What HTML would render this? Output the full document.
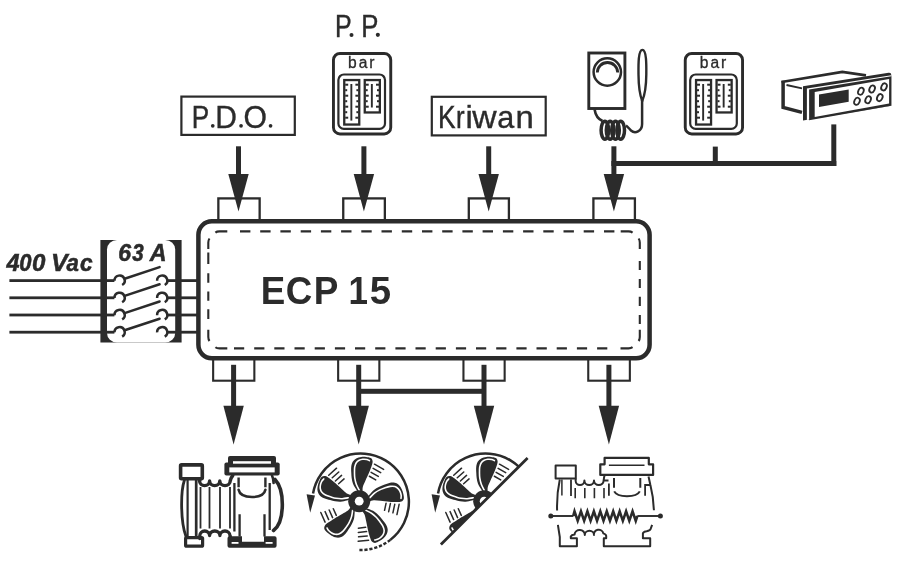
<!DOCTYPE html>
<html><head><meta charset="utf-8">
<style>
html,body{margin:0;padding:0;background:#fff;overflow:hidden;}
svg{display:block;will-change:transform;}
text{font-family:"Liberation Sans",sans-serif;}
</style></head><body>
<svg width="900" height="563" viewBox="0 0 900 563">
<defs>
<g id="arrT">
 <rect x="-2.5" y="146.3" width="5" height="28"/>
 <polygon points="-10.2,173.9 10.2,173.9 0,211.6"/>
</g>
<g id="arrB">
 <rect x="-2.5" y="364.8" width="5" height="42"/>
 <polygon points="-10.2,405.8 10.2,405.8 0,444.6"/>
</g>
</defs>
<g fill="#2b2b2b" stroke="none">

<g fill="none" stroke="#2b2b2b" stroke-width="2.3">
 <rect x="218.35" y="198.4" width="41.3" height="24"/>
 <rect x="343.25" y="198.4" width="41.6" height="24"/>
 <rect x="468.8" y="198.4" width="40.1" height="24"/>
 <rect x="593.4" y="198.4" width="41.5" height="24"/>
</g>
<g fill="none" stroke="#2b2b2b" stroke-width="2.1">
 <rect x="213.15" y="356" width="41.2" height="24.7"/>
 <rect x="338.15" y="356" width="41.2" height="24.7"/>
 <rect x="463.45" y="356" width="41.2" height="24.7"/>
 <rect x="588.25" y="356" width="41.6" height="24.7"/>
</g>
<rect x="198.4" y="221.3" width="451.2" height="137.0" rx="13.5" ry="13.5" fill="#fff" stroke="#2b2b2b" stroke-width="4.5"/>

<path d="M240.0,231.4 H250.4 M234.0,348.4 H244.2 M260.2,231.4 H270.6 M254.2,348.4 H264.4 M280.4,231.4 H290.8 M274.3,348.4 H284.5 M300.7,231.4 H311.1 M294.5,348.4 H304.7 M320.9,231.4 H331.3 M314.7,348.4 H324.9 M341.1,231.4 H351.5 M334.9,348.4 H345.1 M361.3,231.4 H371.7 M355.0,348.4 H365.2 M381.5,231.4 H391.9 M375.2,348.4 H385.4 M401.8,231.4 H412.2 M395.4,348.4 H405.6 M422.0,231.4 H432.4 M415.5,348.4 H425.7 M442.2,231.4 H452.6 M435.7,348.4 H445.9 M462.4,231.4 H472.8 M455.9,348.4 H466.1 M482.6,231.4 H493.0 M476.0,348.4 H486.2 M502.9,231.4 H513.3 M496.2,348.4 H506.4 M523.1,231.4 H533.5 M516.4,348.4 H526.6 M543.3,231.4 H553.7 M536.5,348.4 H546.8 M563.5,231.4 H573.9 M556.7,348.4 H566.9 M583.7,231.4 H594.1 M576.9,348.4 H587.1 M604.0,231.4 H614.4 M597.1,348.4 H607.3 M208.3,252.4 V264.1 M208.3,273.2 V282.8 M208.3,291.5 V300.8 M208.3,309.3 V319 M639.8,261 V270 M639.8,278.9 V288 M639.8,296.8 V305.9 M639.8,315 V324 M215.4,232.6 Q216.8,231.4 219.5,231.4 H227.3 M209.5,238.5 Q208.3,240.2 208.3,242.5 V249 M620.7,231.4 H628.5 Q631,231.4 632.6,232.6 M638.6,238.5 Q639.8,240.2 639.8,242.5 V249 M215.4,347.2 Q216.8,348.4 219.5,348.4 H227.3 M208.3,329.75 V337 Q208.3,339.4 209.5,341 M620.5,348.4 H628.5 Q631,348.4 632.6,347.2 M639.8,329.75 V337 Q639.8,339.4 638.6,341" fill="none" stroke="#2b2b2b" stroke-width="2.1"/>

<text transform="translate(260.74,303.70) scale(0.932,1)" font-size="39.40" font-weight="bold">E</text>
<text transform="translate(285.79,303.70) scale(0.932,1)" font-size="39.40" font-weight="bold">C</text>
<text transform="translate(313.73,303.70) scale(0.937,1)" font-size="39.40" font-weight="bold">P</text>
<text transform="translate(348.49,303.70) scale(0.889,1)" font-size="39.40" font-weight="bold">1</text>
<text transform="translate(369.72,303.70) scale(0.974,1)" font-size="39.40" font-weight="bold">5</text>

<use href="#arrT" x="238.5"/>
<use href="#arrT" x="363.9"/>
<use href="#arrT" x="488.7"/>
<use href="#arrT" x="613.9"/>
<use href="#arrB" x="233.6"/>
<use href="#arrB" x="358.7"/>
<use href="#arrB" x="484"/>
<use href="#arrB" x="608.9"/>
<rect x="358.7" y="388.8" width="125.3" height="5"/>
<rect x="611.4" y="161" width="224.9" height="5"/>
<rect x="712.8" y="146.6" width="5" height="17"/>
<rect x="831.3" y="124.4" width="5" height="41.6"/>

<rect x="181.4" y="96.6" width="113.4" height="38.3" fill="none" stroke="#2b2b2b" stroke-width="2.2"/>
<text transform="translate(191.76,127.80) scale(0.842,1)" font-size="31.00" stroke="#2b2b2b" stroke-width="0.42">P</text>
<circle cx="212.75" cy="125.85" r="1.85"/>
<text transform="translate(215.33,127.80) scale(0.969,1)" font-size="31.00" stroke="#2b2b2b" stroke-width="0.36">D</text>
<circle cx="241.05" cy="125.85" r="1.85"/>
<text transform="translate(243.57,127.80) scale(0.973,1)" font-size="31.00" stroke="#2b2b2b" stroke-width="0.36">O</text>
<circle cx="270.55" cy="125.85" r="1.85"/>
<rect x="431.8" y="96.8" width="113.9" height="38.6" fill="none" stroke="#2b2b2b" stroke-width="2.2"/>
<text transform="translate(438.08,128.00) scale(0.860,1)" font-size="30.70" stroke="#2b2b2b" stroke-width="0.41">K</text>
<text transform="translate(456.04,128.00) scale(0.840,1)" font-size="30.70" stroke="#2b2b2b" stroke-width="0.42">r</text>
<text transform="translate(465.49,128.00) scale(1.075,1)" font-size="30.70" stroke="#2b2b2b" stroke-width="0.33">i</text>
<text transform="translate(472.35,128.00) scale(1.099,1)" font-size="30.70" stroke="#2b2b2b" stroke-width="0.32">w</text>
<text transform="translate(497.30,128.00) scale(0.996,1)" font-size="30.70" stroke="#2b2b2b" stroke-width="0.35">a</text>
<text transform="translate(515.61,128.00) scale(1.073,1)" font-size="30.70" stroke="#2b2b2b" stroke-width="0.33">n</text>
<text transform="translate(334.95,37.00) scale(0.796,1)" font-size="31.40" stroke="#2b2b2b" stroke-width="0.44">P</text>
<circle cx="351.50" cy="34.90" r="2.00"/>
<text transform="translate(361.19,37.00) scale(0.820,1)" font-size="31.40" stroke="#2b2b2b" stroke-width="0.43">P</text>
<circle cx="377.85" cy="34.85" r="2.05"/>
<text transform="translate(6.44,271.10) scale(0.955,1)" font-size="24.60" font-weight="bold" font-style="italic" stroke="#2b2b2b" stroke-width="0.52">4</text>
<text transform="translate(19.29,271.10) scale(0.894,1)" font-size="24.60" font-weight="bold" font-style="italic" stroke="#2b2b2b" stroke-width="0.56">0</text>
<text transform="translate(32.00,271.10) scale(0.982,1)" font-size="24.60" font-weight="bold" font-style="italic" stroke="#2b2b2b" stroke-width="0.51">0</text>
<text transform="translate(51.02,271.10) scale(1.014,1)" font-size="24.60" font-weight="bold" font-style="italic" stroke="#2b2b2b" stroke-width="0.49">V</text>
<text transform="translate(66.59,271.10) scale(0.903,1)" font-size="24.60" font-weight="bold" font-style="italic" stroke="#2b2b2b" stroke-width="0.55">a</text>
<text transform="translate(79.90,271.10) scale(0.923,1)" font-size="24.60" font-weight="bold" font-style="italic" stroke="#2b2b2b" stroke-width="0.54">c</text>
<rect x="100.4" y="240" width="81.2" height="102.5"/>
<rect x="107.0" y="240" width="68.2" height="102.5" rx="10" ry="9.5" fill="#fff"/>
<rect x="9.4" y="279.2" width="105" height="2.8"/>
<rect x="167" y="279.2" width="31.4" height="2.8"/>
<path d="M114.50,280.78 A5.1,5.1 0 1 1 122.15,285.02" fill="none" stroke="#2b2b2b" stroke-width="2.5"/>
<path d="M157.10,280.78 A5.1,5.1 0 1 1 164.75,285.02" fill="none" stroke="#2b2b2b" stroke-width="2.5"/>
<path d="M124.6,278.70 L159.6,267.10" fill="none" stroke="#2b2b2b" stroke-width="2.5" stroke-linecap="round"/>
<rect x="9.4" y="296.4" width="105" height="2.8"/>
<rect x="167" y="296.4" width="31.4" height="2.8"/>
<path d="M114.50,297.98 A5.1,5.1 0 1 1 122.15,302.22" fill="none" stroke="#2b2b2b" stroke-width="2.5"/>
<path d="M157.10,297.98 A5.1,5.1 0 1 1 164.75,302.22" fill="none" stroke="#2b2b2b" stroke-width="2.5"/>
<path d="M124.6,295.90 L159.6,284.30" fill="none" stroke="#2b2b2b" stroke-width="2.5" stroke-linecap="round"/>
<rect x="9.4" y="313.6" width="105" height="2.8"/>
<rect x="167" y="313.6" width="31.4" height="2.8"/>
<path d="M114.50,315.18 A5.1,5.1 0 1 1 122.15,319.42" fill="none" stroke="#2b2b2b" stroke-width="2.5"/>
<path d="M157.10,315.18 A5.1,5.1 0 1 1 164.75,319.42" fill="none" stroke="#2b2b2b" stroke-width="2.5"/>
<path d="M124.6,313.10 L159.6,301.50" fill="none" stroke="#2b2b2b" stroke-width="2.5" stroke-linecap="round"/>
<rect x="9.4" y="330.8" width="105" height="2.8"/>
<rect x="167" y="330.8" width="31.4" height="2.8"/>
<path d="M114.50,332.38 A5.1,5.1 0 1 1 122.15,336.62" fill="none" stroke="#2b2b2b" stroke-width="2.5"/>
<path d="M157.10,332.38 A5.1,5.1 0 1 1 164.75,336.62" fill="none" stroke="#2b2b2b" stroke-width="2.5"/>
<path d="M124.6,330.30 L159.6,318.70" fill="none" stroke="#2b2b2b" stroke-width="2.5" stroke-linecap="round"/>
<text transform="translate(118.23,261.00) scale(0.959,1)" font-size="24.10" font-weight="bold" font-style="italic" stroke="#2b2b2b" stroke-width="0.52">6</text>
<text transform="translate(132.24,261.00) scale(0.850,1)" font-size="24.10" font-weight="bold" font-style="italic" stroke="#2b2b2b" stroke-width="0.59">3</text>
<text transform="translate(149.68,261.00) scale(0.966,1)" font-size="24.10" font-weight="bold" font-style="italic" stroke="#2b2b2b" stroke-width="0.52">A</text>
<g id="gauge">
<rect x="333.45" y="53.45" width="57.3" height="80.5" rx="6.5" fill="none" stroke="#2b2b2b" stroke-width="2.9"/>
<rect x="338.4" y="74.5" width="46.6" height="54.4" rx="5.5" fill="none" stroke="#2b2b2b" stroke-width="2.2"/>
<rect x="344.25" y="80.05" width="15" height="44.5" fill="none" stroke="#2b2b2b" stroke-width="2.3"/>
<rect x="364.75" y="80.05" width="15.1" height="32.4" fill="none" stroke="#2b2b2b" stroke-width="2.3"/>
<rect x="350.4" y="84" width="1.9" height="36.6"/>
<rect x="370.9" y="84" width="1.9" height="23.5"/>
<rect x="345.2" y="83.7" width="3.0" height="2"/>
<rect x="355.4" y="83.7" width="3.0" height="2"/>
<rect x="365.7" y="83.7" width="3.0" height="2"/>
<rect x="376.0" y="83.7" width="3.0" height="2"/>
<rect x="345.2" y="89.2" width="2.0" height="2"/>
<rect x="356.4" y="89.2" width="2.0" height="2"/>
<rect x="365.7" y="89.2" width="2.0" height="2"/>
<rect x="377.0" y="89.2" width="2.0" height="2"/>
<rect x="345.2" y="94.7" width="3.0" height="2"/>
<rect x="355.4" y="94.7" width="3.0" height="2"/>
<rect x="365.7" y="94.7" width="3.0" height="2"/>
<rect x="376.0" y="94.7" width="3.0" height="2"/>
<rect x="345.2" y="100.2" width="2.0" height="2"/>
<rect x="356.4" y="100.2" width="2.0" height="2"/>
<rect x="365.7" y="100.2" width="2.0" height="2"/>
<rect x="377.0" y="100.2" width="2.0" height="2"/>
<rect x="345.2" y="105.7" width="3.0" height="2"/>
<rect x="355.4" y="105.7" width="3.0" height="2"/>
<rect x="365.7" y="105.7" width="3.0" height="2"/>
<rect x="376.0" y="105.7" width="3.0" height="2"/>
<rect x="345.2" y="111.2" width="2.0" height="2"/>
<rect x="356.4" y="111.2" width="2.0" height="2"/>
<rect x="345.2" y="116.7" width="3.0" height="2"/>
<rect x="355.4" y="116.7" width="3.0" height="2"/>
<text transform="translate(347.89,67.80) scale(1.000,1)" font-size="15.60" stroke="#2b2b2b" stroke-width="0.30">b</text>
<text transform="translate(358.64,67.80) scale(1.000,1)" font-size="15.60" stroke="#2b2b2b" stroke-width="0.30">a</text>
<text transform="translate(369.16,67.80) scale(1.000,1)" font-size="15.60" stroke="#2b2b2b" stroke-width="0.30">r</text>
</g>
<use href="#gauge" x="351.8" y="0"/>
<g fill="none" stroke="#2b2b2b">
<rect x="588.8" y="53" width="36.1" height="55.5" stroke-width="2.9"/>
<circle cx="607.3" cy="72" r="13.7" stroke-width="2.5"/>
<path d="M597.3,72.5 A10.2,10 0 0 1 617.7,72.5" stroke-width="2.8"/>
<path d="M642.4,49.9 C646.6,49.9 646.4,65 646.3,74.4 C646.2,86 644.3,96 642.2,101 C640.3,96 638.6,86 638.5,74.4 C638.4,65 638.2,49.9 642.4,49.9 Z" stroke-width="2.4"/>
<path d="M594.6,109.5 C595.5,115.5 598,119 602.5,121" stroke-width="2.6"/>
<path d="M642.1,100 L642.1,124 C642.1,131.5 635,134 631,130.5 C629.5,129 628.5,127.5 626,125.5" stroke-width="2.5"/>
<g stroke-width="3.5">
<ellipse cx="604.9" cy="130.2" rx="3.8" ry="8.95"/>
<ellipse cx="610.1" cy="130.2" rx="3.8" ry="8.95"/>
<ellipse cx="615.5" cy="130.2" rx="3.8" ry="8.95"/>
<ellipse cx="620.7" cy="130.2" rx="3.8" ry="8.95"/>
</g>
</g>
<g>
<path d="M781.5,82 L842.3,71.8 L866,75.3" fill="none" stroke="#2b2b2b" stroke-width="2.7"/>
<path d="M786.5,85 L802,88.4" fill="none" stroke="#2b2b2b" stroke-width="1.8"/>
<path d="M783.1,80.7 L783.1,107.5 L802,112.4" fill="none" stroke="#2b2b2b" stroke-width="3.5"/>
<path d="M803,86.3 L888.6,72.7 Q891.3,72.3 891.3,75 L891.3,105.8 L803,120.4 Z"/>
<polygon points="806.9,88.6 891.3,75.2 891.3,105.8 806.9,120" fill="#fff"/>
<polygon points="809.1,89.6 891.3,76.3 891.3,105.8 809.1,120.2"/>
<polygon points="814.7,91.9 889.1,79.1 889.1,103.6 814.7,116.9" fill="#fff"/>
<polygon points="819,94.4 848.7,89.6 848.7,101.8 819,107"/>
<g fill="none" stroke="#2b2b2b" stroke-width="1.8">
<ellipse cx="860.9" cy="91.2" rx="2.6" ry="3.7" transform="rotate(25 860.9 91.2)"/>
<ellipse cx="872.1" cy="89" rx="2.6" ry="3.7" transform="rotate(25 872.1 89)"/>
<ellipse cx="884" cy="86.9" rx="2.6" ry="3.7" transform="rotate(25 884 86.9)"/>
<ellipse cx="857" cy="101.3" rx="2.6" ry="3.7" transform="rotate(25 857 101.3)"/>
<ellipse cx="868.1" cy="99.7" rx="2.6" ry="3.7" transform="rotate(25 868.1 99.7)"/>
<ellipse cx="879.8" cy="97.6" rx="2.6" ry="3.7" transform="rotate(25 879.8 97.6)"/>
</g>
</g>
<g id="pump">
<g fill="none" stroke="#2b2b2b" stroke-linecap="round" stroke-linejoin="round">
<rect x="180.6" y="464.9" width="21.7" height="13.8" rx="1" stroke-width="3.6"/>
<path d="M184.3,480.5 C180.5,492 180.5,522 186,536.5" stroke-width="2.8"/>
<path d="M187.6,480 V537" stroke-width="2.2"/>
<path d="M196.2,480 V537" stroke-width="2.7"/>
<rect x="185.6" y="537.6" width="17" height="8.6" rx="1" stroke-width="3.2"/>
<path d="M200.2,478.8 L199.6,481 A5.0,4.6 0 0 0 209.6,481 A5.1,4.6 0 0 0 219.8,481 A5.2,4.6 0 0 0 230.2,481 Q231,477.5 232.8,475.5" stroke-width="3.4"/>
<path d="M199.8,538.5 L199.8,535.6 A4.9,4.6 0 0 1 209.6,535.6 A5.15,4.6 0 0 1 219.9,535.6 A5.05,4.6 0 0 1 230,535.6 L230.6,538" stroke-width="3.3"/>
<g stroke-width="1.8" stroke-linecap="butt">
<path d="M200.5,487 V528.5 M209.5,487 V528.5 M220,487 V528.5 M230,487 V528.5"/>
<path d="M234.4,483 V531.5 M269.7,483 V530" stroke-width="2.3"/>
<path d="M238.6,477.5 V487.3 M265.4,477.5 V487.3" stroke-width="2.4"/>
<path d="M239.6,514.3 V536.5 M264.5,514.3 V536.5" stroke-width="2.3"/>
</g>
<path d="M238.6,489.8 C239.5,494.5 245,497 252,497 C259,497 264.5,494.5 265.4,489.8" stroke-width="2.6"/>
<path d="M272,475.5 Q273.6,479 273.6,483" stroke-width="2.6"/>
<path d="M275,479.5 C285,490 285,522 273.5,530.5" stroke-width="3.6"/>
</g>
<rect x="224.4" y="462.4" width="55.3" height="13.1" rx="2"/>
<rect x="228" y="456" width="48" height="10.8" rx="2"/>
<rect x="233" y="461.2" width="38" height="2.5" fill="#fff"/>
<rect x="229.3" y="467.4" width="45.4" height="5" fill="#fff"/>
<path d="M229.5,536.2 H242 V541.7 H264 V536.2 H274.6 Q276.6,536.2 276.6,538.2 V545.8 Q276.6,547.8 274.6,547.8 H229.5 Q227.5,547.8 227.5,545.8 V538.2 Q227.5,536.2 229.5,536.2 Z"/>
<rect x="231.6" y="542" width="6.9" height="1.8" fill="#fff"/>
<rect x="265.6" y="542" width="7" height="1.8" fill="#fff"/>
</g>
<g id="fan">
<g transform="translate(359.2,501.2) rotate(0)"><path d="M-1.20,-9.50 C-1.88,-10.17 -2.27,-10.67 -3.10,-12.00 C-3.93,-13.33 -5.47,-15.67 -6.20,-17.50 C-6.93,-19.33 -7.22,-21.25 -7.50,-23.00 C-7.78,-24.75 -7.82,-26.12 -7.90,-28.00 C-7.98,-29.88 -8.23,-32.38 -8.00,-34.30 C-7.77,-36.22 -7.33,-38.08 -6.50,-39.50 C-5.67,-40.92 -4.42,-42.02 -3.00,-42.80 C-1.58,-43.58 0.33,-43.97 2.00,-44.20 C3.67,-44.43 5.40,-44.38 7.00,-44.20 C8.60,-44.02 10.53,-43.80 11.60,-43.10 C12.67,-42.40 13.25,-41.27 13.40,-40.00 C13.55,-38.73 13.10,-37.43 12.50,-35.50 C11.90,-33.57 10.85,-30.92 9.80,-28.40 C8.75,-25.88 7.23,-22.77 6.20,-20.40 C5.17,-18.03 4.10,-16.02 3.60,-14.20 C3.10,-12.38 3.63,-10.53 3.20,-9.50 C2.77,-8.47 1.73,-8.00 1.00,-8.00 C0.27,-8.00 -0.52,-8.83 -1.20,-9.50 Z"/><path d="M0.20,-10.80 C-0.32,-11.83 -2.13,-14.97 -2.90,-17.00 C-3.67,-19.03 -4.10,-21.17 -4.40,-23.00 C-4.70,-24.83 -4.68,-26.17 -4.70,-28.00 C-4.72,-29.83 -4.80,-32.25 -4.50,-34.00 C-4.20,-35.75 -3.65,-37.35 -2.90,-38.50 C-2.15,-39.65 -1.07,-40.33 0.00,-40.90 C1.07,-41.47 2.25,-41.77 3.50,-41.90 C4.75,-42.03 6.38,-41.92 7.50,-41.70 C8.62,-41.48 9.75,-40.78 10.20,-40.60" fill="none" stroke="#fff" stroke-width="1.6" stroke-linecap="round"/></g>
<g transform="translate(359.2,501.2) rotate(72)"><path d="M-1.20,-9.50 C-1.88,-10.17 -2.27,-10.67 -3.10,-12.00 C-3.93,-13.33 -5.47,-15.67 -6.20,-17.50 C-6.93,-19.33 -7.22,-21.25 -7.50,-23.00 C-7.78,-24.75 -7.82,-26.12 -7.90,-28.00 C-7.98,-29.88 -8.23,-32.38 -8.00,-34.30 C-7.77,-36.22 -7.33,-38.08 -6.50,-39.50 C-5.67,-40.92 -4.42,-42.02 -3.00,-42.80 C-1.58,-43.58 0.33,-43.97 2.00,-44.20 C3.67,-44.43 5.40,-44.38 7.00,-44.20 C8.60,-44.02 10.53,-43.80 11.60,-43.10 C12.67,-42.40 13.25,-41.27 13.40,-40.00 C13.55,-38.73 13.10,-37.43 12.50,-35.50 C11.90,-33.57 10.85,-30.92 9.80,-28.40 C8.75,-25.88 7.23,-22.77 6.20,-20.40 C5.17,-18.03 4.10,-16.02 3.60,-14.20 C3.10,-12.38 3.63,-10.53 3.20,-9.50 C2.77,-8.47 1.73,-8.00 1.00,-8.00 C0.27,-8.00 -0.52,-8.83 -1.20,-9.50 Z"/><path d="M0.20,-10.80 C-0.32,-11.83 -2.13,-14.97 -2.90,-17.00 C-3.67,-19.03 -4.10,-21.17 -4.40,-23.00 C-4.70,-24.83 -4.68,-26.17 -4.70,-28.00 C-4.72,-29.83 -4.80,-32.25 -4.50,-34.00 C-4.20,-35.75 -3.65,-37.35 -2.90,-38.50 C-2.15,-39.65 -1.07,-40.33 0.00,-40.90 C1.07,-41.47 2.25,-41.77 3.50,-41.90 C4.75,-42.03 6.38,-41.92 7.50,-41.70 C8.62,-41.48 9.75,-40.78 10.20,-40.60" fill="none" stroke="#fff" stroke-width="1.6" stroke-linecap="round"/></g>
<g transform="translate(359.2,501.2) rotate(144)"><path d="M-1.20,-9.50 C-1.88,-10.17 -2.27,-10.67 -3.10,-12.00 C-3.93,-13.33 -5.47,-15.67 -6.20,-17.50 C-6.93,-19.33 -7.22,-21.25 -7.50,-23.00 C-7.78,-24.75 -7.82,-26.12 -7.90,-28.00 C-7.98,-29.88 -8.23,-32.38 -8.00,-34.30 C-7.77,-36.22 -7.33,-38.08 -6.50,-39.50 C-5.67,-40.92 -4.42,-42.02 -3.00,-42.80 C-1.58,-43.58 0.33,-43.97 2.00,-44.20 C3.67,-44.43 5.40,-44.38 7.00,-44.20 C8.60,-44.02 10.53,-43.80 11.60,-43.10 C12.67,-42.40 13.25,-41.27 13.40,-40.00 C13.55,-38.73 13.10,-37.43 12.50,-35.50 C11.90,-33.57 10.85,-30.92 9.80,-28.40 C8.75,-25.88 7.23,-22.77 6.20,-20.40 C5.17,-18.03 4.10,-16.02 3.60,-14.20 C3.10,-12.38 3.63,-10.53 3.20,-9.50 C2.77,-8.47 1.73,-8.00 1.00,-8.00 C0.27,-8.00 -0.52,-8.83 -1.20,-9.50 Z"/><path d="M0.20,-10.80 C-0.32,-11.83 -2.13,-14.97 -2.90,-17.00 C-3.67,-19.03 -4.10,-21.17 -4.40,-23.00 C-4.70,-24.83 -4.68,-26.17 -4.70,-28.00 C-4.72,-29.83 -4.80,-32.25 -4.50,-34.00 C-4.20,-35.75 -3.65,-37.35 -2.90,-38.50 C-2.15,-39.65 -1.07,-40.33 0.00,-40.90 C1.07,-41.47 2.25,-41.77 3.50,-41.90 C4.75,-42.03 6.38,-41.92 7.50,-41.70 C8.62,-41.48 9.75,-40.78 10.20,-40.60" fill="none" stroke="#fff" stroke-width="1.6" stroke-linecap="round"/></g>
<g transform="translate(359.2,501.2) rotate(216)"><path d="M-1.20,-9.50 C-1.88,-10.17 -2.27,-10.67 -3.10,-12.00 C-3.93,-13.33 -5.47,-15.67 -6.20,-17.50 C-6.93,-19.33 -7.22,-21.25 -7.50,-23.00 C-7.78,-24.75 -7.82,-26.12 -7.90,-28.00 C-7.98,-29.88 -8.23,-32.38 -8.00,-34.30 C-7.77,-36.22 -7.33,-38.08 -6.50,-39.50 C-5.67,-40.92 -4.42,-42.02 -3.00,-42.80 C-1.58,-43.58 0.33,-43.97 2.00,-44.20 C3.67,-44.43 5.40,-44.38 7.00,-44.20 C8.60,-44.02 10.53,-43.80 11.60,-43.10 C12.67,-42.40 13.25,-41.27 13.40,-40.00 C13.55,-38.73 13.10,-37.43 12.50,-35.50 C11.90,-33.57 10.85,-30.92 9.80,-28.40 C8.75,-25.88 7.23,-22.77 6.20,-20.40 C5.17,-18.03 4.10,-16.02 3.60,-14.20 C3.10,-12.38 3.63,-10.53 3.20,-9.50 C2.77,-8.47 1.73,-8.00 1.00,-8.00 C0.27,-8.00 -0.52,-8.83 -1.20,-9.50 Z"/><path d="M0.20,-10.80 C-0.32,-11.83 -2.13,-14.97 -2.90,-17.00 C-3.67,-19.03 -4.10,-21.17 -4.40,-23.00 C-4.70,-24.83 -4.68,-26.17 -4.70,-28.00 C-4.72,-29.83 -4.80,-32.25 -4.50,-34.00 C-4.20,-35.75 -3.65,-37.35 -2.90,-38.50 C-2.15,-39.65 -1.07,-40.33 0.00,-40.90 C1.07,-41.47 2.25,-41.77 3.50,-41.90 C4.75,-42.03 6.38,-41.92 7.50,-41.70 C8.62,-41.48 9.75,-40.78 10.20,-40.60" fill="none" stroke="#fff" stroke-width="1.6" stroke-linecap="round"/></g>
<g transform="translate(359.2,501.2) rotate(288)"><path d="M-1.20,-9.50 C-1.88,-10.17 -2.27,-10.67 -3.10,-12.00 C-3.93,-13.33 -5.47,-15.67 -6.20,-17.50 C-6.93,-19.33 -7.22,-21.25 -7.50,-23.00 C-7.78,-24.75 -7.82,-26.12 -7.90,-28.00 C-7.98,-29.88 -8.23,-32.38 -8.00,-34.30 C-7.77,-36.22 -7.33,-38.08 -6.50,-39.50 C-5.67,-40.92 -4.42,-42.02 -3.00,-42.80 C-1.58,-43.58 0.33,-43.97 2.00,-44.20 C3.67,-44.43 5.40,-44.38 7.00,-44.20 C8.60,-44.02 10.53,-43.80 11.60,-43.10 C12.67,-42.40 13.25,-41.27 13.40,-40.00 C13.55,-38.73 13.10,-37.43 12.50,-35.50 C11.90,-33.57 10.85,-30.92 9.80,-28.40 C8.75,-25.88 7.23,-22.77 6.20,-20.40 C5.17,-18.03 4.10,-16.02 3.60,-14.20 C3.10,-12.38 3.63,-10.53 3.20,-9.50 C2.77,-8.47 1.73,-8.00 1.00,-8.00 C0.27,-8.00 -0.52,-8.83 -1.20,-9.50 Z"/><path d="M0.20,-10.80 C-0.32,-11.83 -2.13,-14.97 -2.90,-17.00 C-3.67,-19.03 -4.10,-21.17 -4.40,-23.00 C-4.70,-24.83 -4.68,-26.17 -4.70,-28.00 C-4.72,-29.83 -4.80,-32.25 -4.50,-34.00 C-4.20,-35.75 -3.65,-37.35 -2.90,-38.50 C-2.15,-39.65 -1.07,-40.33 0.00,-40.90 C1.07,-41.47 2.25,-41.77 3.50,-41.90 C4.75,-42.03 6.38,-41.92 7.50,-41.70 C8.62,-41.48 9.75,-40.78 10.20,-40.60" fill="none" stroke="#fff" stroke-width="1.6" stroke-linecap="round"/></g>
<circle cx="359.2" cy="501.2" r="11"/><circle cx="359.2" cy="501.2" r="4.4" fill="#fff"/>
<path d="M328.73,475.21 L336.54,468.18 M332.28,477.80 L338.75,471.98 M335.37,480.94 L341.54,475.39 M338.62,483.80 L344.05,478.92 M374.50,464.19 L383.60,469.44 M373.13,468.37 L380.67,472.72 M371.11,472.28 L378.29,476.43 M369.39,476.25 L375.71,479.90 M399.12,504.32 L396.94,514.59 M394.73,504.31 L392.92,512.82 M390.39,503.59 L388.66,511.70 M386.08,503.18 L384.56,510.32 M368.57,540.13 L358.13,541.23 M367.23,535.95 L358.57,536.86 M366.57,531.60 L358.31,532.46 M365.62,527.37 L358.36,528.14 M325.07,522.14 L320.80,512.55 M328.63,519.57 L325.09,511.62 M332.57,517.60 L329.19,510.02 M336.29,515.39 L333.32,508.73" fill="none" stroke="#2b2b2b" stroke-width="1.5" stroke-linecap="round"/>
<path d="M313.03,493.41 A48.3,48.3 0 1 1 390.34,539.86" fill="none" stroke="#2b2b2b" stroke-width="2.5"/>
<path d="M390.34,539.86 A48.3,48.3 0 0 1 358.91,550.07" fill="none" stroke="#2b2b2b" stroke-width="2.5" stroke-dasharray="3.2 1.8"/>
<polygon points="306.6,494.3 315,495.4 310.2,512.8"/>
</g>
<clipPath id="clip2"><polygon points="400,400 585.5,400 400,585.5"/></clipPath>
<g clip-path="url(#clip2)"><use href="#fan" x="125"/></g>
<path d="M527.6,457.9 L440.9,544.6" stroke="#2b2b2b" stroke-width="2.8"/>
<g fill="none" stroke="#2b2b2b" stroke-linejoin="round">
<rect x="555.6" y="465.4" width="20.2" height="13.1" stroke-width="2"/>
<path d="M559.8,479.5 Q556.6,494 557.1,510.5" stroke-width="2"/>
<path d="M561.9,479.5 V495.5" stroke-width="1.5"/>
<path d="M571,479.5 V496" stroke-width="1.8"/>
<path d="M575.8,478.6 L575.6,480.6 A4.4,4.5 0 0 0 584.4,480.6 A4.8,4.5 0 0 0 594,480.6 A4.8,4.5 0 0 0 603.6,480.6 Q604,477.5 604.6,475 M603.6,480.6 H608.5" stroke-width="2"/>
<path d="M575.2,488 V498.2 M584.8,488 V498.2 M594.4,488 V498.2 M604,488 V498.2" stroke-width="1.6"/>
<path d="M608.9,483.4 V495.7 M645.1,484 V495.7" stroke-width="1.8"/>
<path d="M604.6,457.9 H648.8 V464.3 H653.1 V474.9 H600.3 V464.3 H604.6 Z" stroke-width="2.2"/>
<path d="M608.9,465.3 H644.5" stroke-width="1.5"/>
<path d="M614,478.1 V487.7 M640.3,478.1 V487.7" stroke-width="2"/>
<path d="M614.2,491.4 C616,495 621,496.2 627,496.2 C633,496.2 638,495 639.8,491.4" stroke-width="2"/>
<path d="M648.5,476.5 L650.4,485 Q653.5,497 653.9,510.2 M645.1,485 H650.4" stroke-width="2"/>
<path d="M550.8,516 H573.4" stroke-width="1.9"/>
<path d="M637.3,516 H660.4" stroke-width="1.9"/>
<path d="M573.2,516 L574.50,511.3 L577.70,520.8 L580.95,511.3 L584.15,520.8 L587.40,511.3 L590.60,520.8 L593.85,511.3 L597.05,520.8 L600.30,511.3 L603.50,520.8 L606.75,511.3 L609.95,520.8 L613.20,511.3 L616.40,520.8 L619.65,511.3 L622.85,520.8 L626.10,511.3 L629.30,520.8 L632.55,511.3 L635.75,520.8 L637.3,516" stroke-width="2.6" stroke-linejoin="miter" stroke-miterlimit="20"/>
<path d="M557.9,524.9 L559.8,537 V546.3 H576.9 V538.3 H570.8 V536.5 Q571.5,534.8 574.6,534.5 A4.6,4.3 0 0 1 584.8,535 A4.6,4.3 0 0 1 594,535 A4.6,4.3 0 0 1 603.3,533.4 Q606.2,534.5 606.2,536 V538.3 H603.8 V546.3 H650.2 V538.3 H642.9 V533.4 Q643.5,531.6 646.6,531.3 Q650.2,530.5 650.6,529 L652.1,524.9" stroke-width="2"/>
</g>
<circle cx="550.8" cy="516" r="2.5"/>
<circle cx="660.4" cy="516" r="2.5"/>
</g>
</svg>
</body></html>
